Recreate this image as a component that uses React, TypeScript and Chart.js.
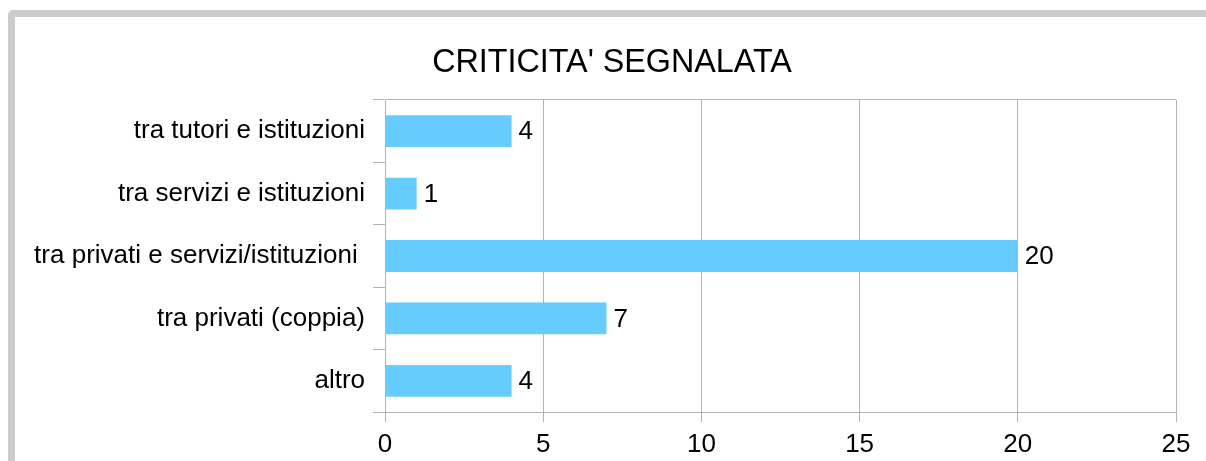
import React, { useEffect, useRef } from "react";
import { Chart, registerables } from "chart.js";

Chart.register(...registerables);

const TITLE = "CRITICITA' SEGNALATA";
const categories = [
  "tra tutori e istituzioni",
  "tra servizi e istituzioni",
  "tra privati e servizi/istituzioni ",
  "tra privati (coppia)",
  "altro",
];
const values = [4, 1, 20, 7, 4];
const xTicks = [0, 5, 10, 15, 20, 25];

const FONT = "'Liberation Sans', Arial, sans-serif";
const GRID = "#b3b3b3";
const BAR = "#66ccff";
const LABEL_SIZE = 26;

const valueLabels = {
  id: "valueLabels",
  afterDatasetsDraw(chart: any) {
    const ctx = chart.ctx;
    const meta = chart.getDatasetMeta(0);
    ctx.save();
    ctx.font = `${LABEL_SIZE}px ${FONT}`;
    ctx.fillStyle = "#000";
    ctx.textAlign = "left";
    ctx.textBaseline = "middle";
    meta.data.forEach((bar: any, i: number) => {
      ctx.fillText(String(values[i]), bar.x + 7, bar.y + 1);
    });
    ctx.restore();
  },
};

const titlePlugin = {
  id: "centerTitle",
  afterDraw(chart: any) {
    const ctx = chart.ctx;
    ctx.save();
    ctx.font = `32.3px ${FONT}`;
    ctx.fillStyle = "#000";
    ctx.textAlign = "center";
    ctx.textBaseline = "middle";
    ctx.fillText(TITLE, 612, 63);
    ctx.restore();
  },
};

export default function App() {
  const ref = useRef<HTMLCanvasElement>(null);
  useEffect(() => {
    const chart = new Chart(ref.current!, {
      type: "bar",
      data: {
        labels: categories,
        datasets: [
          {
            data: values,
            backgroundColor: BAR,
            borderWidth: 0,
            barPercentage: 0.51,
            categoryPercentage: 1,
          },
        ],
      },
      options: {
        indexAxis: "y",
        animation: false,
        responsive: false,
        layout: { padding: { left: 10, right: 30, top: 100, bottom: 0 } },
        plugins: {
          legend: { display: false },
          tooltip: { enabled: false },
          title: { display: false },
        },
        scales: {
          x: {
            min: 0,
            max: 25,
            afterBuildTicks(scale: any) {
              scale.ticks = xTicks.map((v) => ({ value: v }));
            },
            afterFit(scale: any) {
              scale.height = 49;
            },
            grid: {
              color: GRID,
              tickColor: GRID,
              tickLength: 10,
              lineWidth: 1,
            },
            border: { color: GRID, width: 1 },
            ticks: {
              color: "#000",
              padding: 7,
              font: { family: FONT, size: LABEL_SIZE },
            },
          },
          y: {
            afterFit(scale: any) {
              scale.width = 375;
            },
            grid: {
              offset: true,
              color: (c: any) => (c.index === 0 ? GRID : "rgba(0,0,0,0)"),
              tickColor: GRID,
              tickLength: 12,
            },
            border: { color: GRID, width: 1 },
            ticks: {
              color: "#000",
              padding: 8,
              font: { family: FONT, size: LABEL_SIZE },
            },
          },
        },
      },
      plugins: [valueLabels, titlePlugin],
    });
    return () => chart.destroy();
  }, []);

  return (
    <div
      style={{
        position: "fixed",
        left: 0,
        top: 0,
        width: 1206,
        height: 461,
        overflow: "hidden",
        background: "#fff",
      }}
    >
      <div
        style={{
          position: "absolute",
          left: 8,
          top: 10,
          width: 1400,
          height: 700,
          border: "7px solid #cccccc",
          borderRadius: 5,
          boxSizing: "border-box",
        }}
      />
      <canvas
        ref={ref}
        width={1206}
        height={461}
        style={{ position: "absolute", left: 0, top: 0, width: 1206, height: 461 }}
      />
    </div>
  );
}
